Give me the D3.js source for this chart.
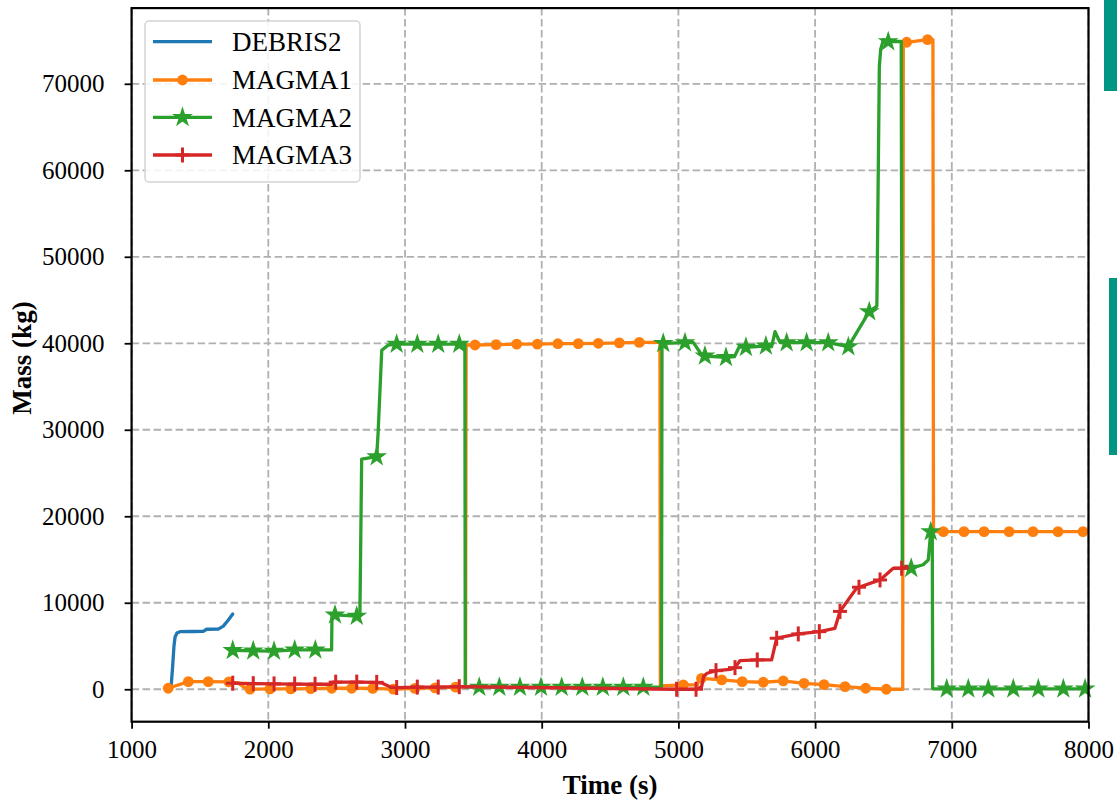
<!DOCTYPE html>
<html><head><meta charset="utf-8">
<script src="https://cdn.jsdelivr.net/npm/d3@7/dist/d3.min.js"></script>
<style>
html,body{margin:0;padding:0;background:#fff;}
svg{display:block;}
</style></head>
<body>
<svg id="chart" width="1117" height="802"></svg>
<script>
// ---------- data ----------
const xTicks = [1000, 2000, 3000, 4000, 5000, 6000, 7000, 8000];
const yTicks = [0, 10000, 20000, 30000, 40000, 50000, 60000, 70000];
const seriesNames = ["DEBRIS2", "MAGMA1", "MAGMA2", "MAGMA3"];

const debris2Line = [[1288,115],[1300,2600],[1310,5000],[1318,6050],[1332,6500],[1354,6660],[1450,6680],[1524,6700],[1549,6940],[1634,6960],[1671,7300],[1705,7950],[1740,8700]];
const debris2Marks = [];

const magma1Marks = [[1268,115],[1415,880],[1561,880],[1712,850],[1866,20],[2012,50],[2164,50],[2310,80],[2464,120],[2610,120],[2764,100],[2914,20],[3073,100],[3220,150],[3370,250],[3512,39800],[3666,39850],[3817,39900],[3968,39900],[4118,39950],[4268,39960],[4414,40000],[4568,40050],[4714,40100],[5036,500],[5169,1270],[5317,1080],[5467,880],[5621,810],[5767,960],[5919,690],[6065,530],[6219,300],[6370,120],[6521,0],[6670,74800],[6823,75100],[6938,18230],[7089,18230],[7236,18230],[7419,18230],[7594,18230],[7777,18230],[7960,18230]];
const magma1Line = [[1780,700],[1830,150],[3443,300],[3447,39800],[4865,40100],[4868,400],[5140,500],[5150,1400],[6641,0],[6645,74800],[6862,75100],[6866,18230]];

const magma2Marks = [[1740,4500],[1890,4450],[2042,4400],[2193,4550],[2344,4550],[2488,8600],[2647,8450],[2793,26900],[2939,39900],[3090,39900],[3243,39900],[3397,39900],[3543,250],[3690,250],[3841,250],[3995,250],[4146,250],[4297,250],[4447,250],[4597,250],[4743,250],[4889,40000],[5048,40070],[5194,38530],[5348,38380],[5494,39540],[5640,39690],[5792,40070],[5938,40070],[6096,40070],[6243,39610],[6396,43650],[6535,74870],[6703,13990],[6846,18220],[6963,50],[7121,50],[7267,50],[7450,50],[7633,50],[7816,50],[7975,50]];
const magma2Line = [[2463,4550],[2466,8600],[2670,8450],[2683,26600],[2803,29600],[2830,39200],[2878,39800],[3438,39900],[3441,250],[4876,250],[4880,40000],[5110,40070],[5160,38900],[5410,38450],[5445,39600],[5682,39600],[5707,41340],[5744,40070],[6452,44300],[6470,72000],[6480,74000],[6500,75100],[6630,74900],[6638,13990],[6790,14400],[6828,14950],[6857,18220],[6860,50]];

const magma3Marks = [[1740,700],[1890,650],[2042,620],[2193,600],[2342,580],[2493,820],[2647,830],[2793,800],[2939,200],[3090,250],[3243,250],[3397,300],[4987,0],[5129,0],[5275,2150],[5414,2500],[5577,3390],[5719,5900],[5877,6400],[6031,6660],[6182,9000],[6321,11800],[6475,12640],[6633,13990]];
const magma3Line = [[2460,580],[2470,820],[2830,720],[2890,280],[5170,300],[5185,1500],[5210,1850],[5380,2300],[5450,3300],[5682,3400],[6145,7050],[6304,11700],[6572,13990],[6670,14200]];

// ---------- layout ----------
const svg = d3.select("#chart");
const plot = {left: 131.6, right: 1088.5, top: 8.1, bottom: 721.7};
const x = d3.scaleLinear().domain([1000, 8000]).range([plot.left, plot.right]);
const y = d3.scaleLinear().domain([-3750, 78750]).range([plot.bottom, plot.top]);
const colors = ["#1f77b4", "#ff7f0e", "#2ca02c", "#d62728"];
const markerKinds = [null, "circle", "star", "plus"];
const FONT = "'Liberation Serif','Times New Roman',serif";

// decorative page-edge bars seen in the picture
svg.append("rect").attr("x", 1104).attr("y", 0).attr("width", 13).attr("height", 91).attr("fill", "#009683");
svg.append("rect").attr("x", 1109).attr("y", 278).attr("width", 8).attr("height", 177).attr("fill", "#009683");

// grid
const grid = svg.append("g");
grid.selectAll("line.gx").data(xTicks).join("line")
  .attr("x1", d => x(d)).attr("x2", d => x(d))
  .attr("y1", plot.top).attr("y2", plot.bottom);
grid.selectAll("line.gy").data(yTicks).join("line")
  .attr("x1", plot.left).attr("x2", plot.right)
  .attr("y1", d => y(d)).attr("y2", d => y(d));
grid.selectAll("line").attr("stroke", "#b0b0b0").attr("stroke-width", 1.8).attr("stroke-dasharray", "7.5,3.5");

// series
const series = [
  {line: debris2Line, marks: debris2Marks},
  {line: magma1Line, marks: magma1Marks},
  {line: magma2Line, marks: magma2Marks},
  {line: magma3Line, marks: magma3Marks}
];
const lineGen = d3.line().x(d => x(d[0])).y(d => y(d[1]));
const starPath = d3.symbol().type(d3.symbolStar).size(85)();

function drawMarker(g, kind, color, px, py) {
  if (kind === "circle") {
    g.append("circle").attr("cx", px).attr("cy", py).attr("r", 5.4).attr("fill", color);
  } else if (kind === "star") {
    g.append("path").attr("d", starPath).attr("transform", `translate(${px},${py})`)
      .attr("fill", color).attr("stroke", color).attr("stroke-width", 1.4).attr("stroke-linejoin", "miter");
  } else if (kind === "plus") {
    g.append("line").attr("x1", px - 7).attr("x2", px + 7).attr("y1", py).attr("y2", py)
      .attr("stroke", color).attr("stroke-width", 3);
    g.append("line").attr("x1", px).attr("x2", px).attr("y1", py - 7.5).attr("y2", py + 7.5)
      .attr("stroke", color).attr("stroke-width", 3);
  }
}

series.forEach((s, i) => {
  const g = svg.append("g");
  const pts = s.line.concat(s.marks).sort((a, b) => a[0] - b[0]);
  g.append("path").attr("d", lineGen(pts)).attr("fill", "none")
    .attr("stroke", colors[i]).attr("stroke-width", 3.3).attr("stroke-linejoin", "round").attr("stroke-linecap", "round");
  s.marks.forEach(m => drawMarker(g, markerKinds[i], colors[i], x(m[0]), y(m[1])));
});

// frame
svg.append("rect").attr("x", plot.left).attr("y", plot.top)
  .attr("width", plot.right - plot.left).attr("height", plot.bottom - plot.top)
  .attr("fill", "none").attr("stroke", "#000").attr("stroke-width", 2.2);

// axes
const xAxis = svg.append("g").attr("transform", `translate(0,${plot.bottom})`)
  .call(d3.axisBottom(x).tickValues(xTicks).tickSize(7).tickPadding(12).tickFormat(d3.format("d")));
const yAxis = svg.append("g").attr("transform", `translate(${plot.left},0)`)
  .call(d3.axisLeft(y).tickValues(yTicks).tickSize(7).tickPadding(20).tickFormat(d3.format("d")));
[xAxis, yAxis].forEach(a => {
  a.select(".domain").remove();
  a.selectAll(".tick line").attr("stroke", "#000").attr("stroke-width", 1.8);
  a.selectAll(".tick text").attr("fill", "#000").style("font-family", FONT).style("font-size", "25px");
});

// axis titles
svg.append("text").attr("x", (plot.left + plot.right) / 2).attr("y", 794)
  .attr("text-anchor", "middle").style("font-family", FONT).style("font-size", "27px").style("font-weight", "bold")
  .text("Time (s)");
svg.append("text").attr("transform", "translate(31,358) rotate(-90)")
  .attr("text-anchor", "middle").style("font-family", FONT).style("font-size", "27px").style("font-weight", "bold")
  .text("Mass (kg)");

// legend
const lg = svg.append("g");
lg.append("rect").attr("x", 145).attr("y", 21).attr("width", 215).attr("height", 161).attr("rx", 4)
  .attr("fill", "#fff").attr("fill-opacity", 0.85).attr("stroke", "#d4d4d4").attr("stroke-width", 1.5);
const legendY = [41.7, 80, 117.3, 155];
seriesNames.forEach((name, i) => {
  const ly = legendY[i];
  lg.append("line").attr("x1", 153).attr("x2", 212).attr("y1", ly).attr("y2", ly)
    .attr("stroke", colors[i]).attr("stroke-width", 3.3);
  drawMarker(lg, markerKinds[i], colors[i], 182.5, ly);
  lg.append("text").attr("x", 232).attr("y", ly).attr("dy", "0.35em")
    .style("font-family", FONT).style("font-size", "27px").attr("fill", "#000").text(name);
});
</script>
</body></html>
